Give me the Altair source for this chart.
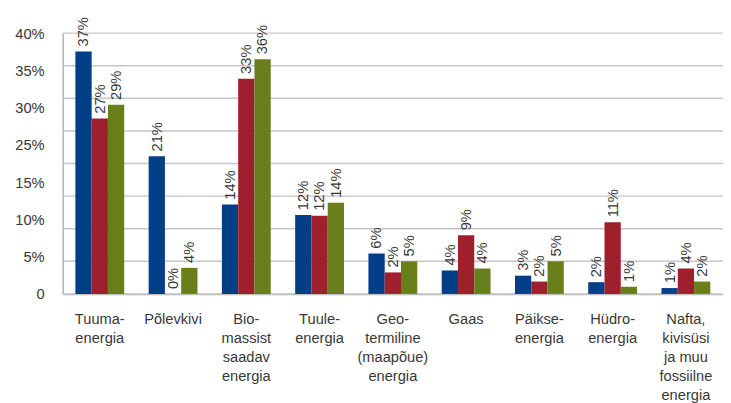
import altair as alt
import pandas as pd

categories = [
    "Tuuma-\nenergia",
    "Põlevkivi",
    "Bio-\nmassist\nsaadav\nenergia",
    "Tuule-\nenergia",
    "Geo-\ntermiline\n(maapõue)\nenergia",
    "Gaas",
    "Päikse-\nenergia",
    "Hüdro-\nenergia",
    "Nafta,\nkivisüsi\nja muu\nfossiilne\nenergia",
]
series = ["Seeria 1", "Seeria 2", "Seeria 3"]
values_s1 = [37.2, 21.1, 13.7, 12.1, 6.2, 3.6, 2.8, 1.8, 0.9]
values_s2 = [26.9, 0.0, 33.0, 12.0, 3.3, 9.0, 1.9, 11.0, 3.9]
values_s3 = [29.0, 4.0, 36.0, 14.0, 5.0, 3.9, 5.0, 1.1, 1.9]
labels_s1 = ["37%", "21%", "14%", "12%", "6%", "4%", "3%", "2%", "1%"]
labels_s2 = ["27%", "0%", "33%", "12%", "2%", "9%", "2%", "11%", "4%"]
labels_s3 = ["29%", "4%", "36%", "14%", "5%", "4%", "5%", "1%", "2%"]
colors = ["#033f87", "#9f202d", "#687f1c"]
grid_values = [0, 5, 10, 15, 20, 25, 30, 35, 40]
y_tick_labels = ["0", "5%", "10%", "15%", "25%", "30%", "35%", "40%"]

FONT = "Liberation Sans"
TXT = "#383838"

rows = []
all_vals = [values_s1, values_s2, values_s3]
all_labs = [labels_s1, labels_s2, labels_s3]
for i, c in enumerate(categories):
    for j, s in enumerate(series):
        rows.append(dict(cat=c, series=s, order=j, value=all_vals[j][i], label=all_labs[j][i]))
df = pd.DataFrame(rows)
grid_df = pd.DataFrame({"v": grid_values})

n = len(y_tick_labels) - 1
y_tick_positions = [40 * k / n for k in range(n + 1)]
lab_arr = "[" + ",".join("'" + t + "'" for t in y_tick_labels) + "]"
y_label_expr = f"{lab_arr}[round(datum.value*{n}/40)]"

yscale = alt.Scale(domain=[0, 40], nice=False, zero=True)
y_axis = alt.Axis(
    title=None,
    values=y_tick_positions,
    labelExpr=y_label_expr,
    labelFont=FONT,
    labelFontSize=15,
    labelColor=TXT,
    labelPadding=19,
    labelOverlap=False,
    ticks=False,
    grid=False,
    domainColor="#b0b0b0",
    domainWidth=1.5,
)

x_enc = alt.X(
    "cat:N",
    sort=categories,
    scale=alt.Scale(paddingInner=1 / 3, paddingOuter=0.173),
    axis=alt.Axis(
        title=None,
        labelAngle=0,
        labelExpr="split(datum.label, '\\n')",
        labelFont=FONT,
        labelFontSize=15,
        labelLineHeight=19.5,
        labelColor=TXT,
        labelPadding=18,
        labelBaseline="top",
        labelOverlap=False,
        ticks=False,
        domainColor="#b0b0b0",
        domainWidth=1.5,
    ),
)
xoff = alt.XOffset("series:N", sort=series, scale=alt.Scale(paddingInner=0, paddingOuter=0))

grid = alt.Chart(grid_df).mark_rule(color="#c6c6c6", strokeWidth=1.5).encode(
    y=alt.Y("v:Q", scale=yscale, axis=y_axis)
)

bars = alt.Chart(df).mark_bar().encode(
    x=x_enc,
    xOffset=xoff,
    y=alt.Y("value:Q", scale=yscale, axis=y_axis),
    color=alt.Color("series:N", sort=series, scale=alt.Scale(domain=series, range=colors), legend=None),
)

texts = alt.Chart(df).mark_text(
    angle=270, align="left", baseline="middle", dx=5, fontSize=15, font=FONT, color=TXT
).encode(
    x=x_enc,
    xOffset=xoff,
    y=alt.Y("value:Q", scale=yscale, axis=y_axis),
    text="label:N",
)

chart = (
    alt.layer(grid, bars, texts)
    .properties(
        width=676,
        height=267,
        autosize=alt.AutoSizeParams(type="none"),
        padding={"left": 56, "top": 21, "right": 0, "bottom": 110},
    )
    .configure_view(stroke=None)
)

chart.save("out.html", embed_options={"renderer": "svg", "actions": False})
